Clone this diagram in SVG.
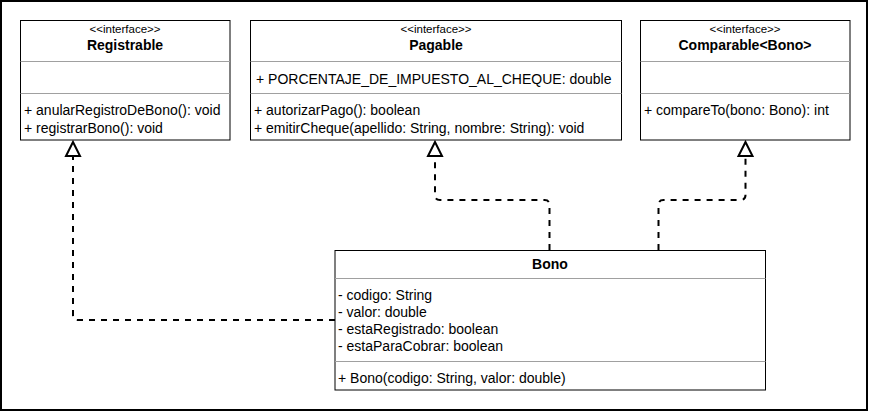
<svg xmlns="http://www.w3.org/2000/svg" width="871" height="411" viewBox="0 0 871 411">
<defs>
<style>
.box{fill:#fff;stroke:#000;stroke-width:1}
.sep{stroke:#a0a0a0;stroke-width:1}
.st{font-family:"Liberation Sans",Arial,sans-serif;font-size:11.5px;fill:#000;text-anchor:middle}
.ti{font-family:"Liberation Sans",Arial,sans-serif;font-size:14px;font-weight:bold;fill:#000;text-anchor:middle}
.m{font-family:"Liberation Sans",Arial,sans-serif;font-size:14px;fill:#000}
.edge{fill:none;stroke:#000;stroke-width:2;stroke-dasharray:6 6}
.head{fill:#fff;stroke:#000;stroke-width:2}
</style>
</defs>
<rect x="0" y="0" width="871" height="411" fill="#fff"/>
<rect x="1" y="1" width="866" height="409" fill="none" stroke="#000" stroke-width="2"/>

<g id="connectors">
<path class="edge" d="M335 320 H78 Q73 320 73 315 V156"/>
<polygon class="head" points="73,142 66,156 80,156"/>
<path class="edge" d="M549.5 250 V205 Q549.5 200 544.5 200 H440 Q435 200 435 195 V156"/>
<polygon class="head" points="435,142 428,156 442,156"/>
<path class="edge" d="M658.5 250 V205 Q658.5 200 663.5 200 H740.5 Q745.5 200 745.5 195 V156"/>
<polygon class="head" points="745.5,142 738.5,156 752.5,156"/>
</g>

<g id="Registrable">
<rect class="box" x="20.5" y="20.5" width="209.5" height="119.5"/>
<line class="sep" x1="20.5" y1="61.5" x2="230" y2="61.5"/>
<line class="sep" x1="20.5" y1="93.5" x2="230" y2="93.5"/>
<text class="st" x="125" y="33">&lt;&lt;interface&gt;&gt;</text>
<text class="ti" x="125" y="50">Registrable</text>
<text class="m" x="24" y="115">+ anularRegistroDeBono(): void</text>
<text class="m" x="24" y="132.5">+ registrarBono(): void</text>
</g>

<g id="Pagable">
<rect class="box" x="250.5" y="20.5" width="371" height="119.5"/>
<line class="sep" x1="250.5" y1="61.5" x2="621.5" y2="61.5"/>
<line class="sep" x1="250.5" y1="93.5" x2="621.5" y2="93.5"/>
<text class="st" x="436" y="33">&lt;&lt;interface&gt;&gt;</text>
<text class="ti" x="436" y="50">Pagable</text>
<text class="m" x="256" y="84">+ PORCENTAJE_DE_IMPUESTO_AL_CHEQUE: double</text>
<text class="m" x="254" y="115">+ autorizarPago(): boolean</text>
<text class="m" x="254" y="132.5">+ emitirCheque(apellido: String, nombre: String): void</text>
</g>

<g id="Comparable">
<rect class="box" x="640.5" y="20.5" width="209.5" height="119.5"/>
<line class="sep" x1="640.5" y1="61.5" x2="850" y2="61.5"/>
<line class="sep" x1="640.5" y1="93.5" x2="850" y2="93.5"/>
<text class="st" x="745" y="33">&lt;&lt;interface&gt;&gt;</text>
<text class="ti" x="745" y="50">Comparable&lt;Bono&gt;</text>
<text class="m" x="644" y="115">+ compareTo(bono: Bono): int</text>
</g>

<g id="Bono">
<rect class="box" x="335" y="250.5" width="430.5" height="139.5"/>
<line class="sep" x1="335" y1="278.5" x2="765.5" y2="278.5"/>
<line class="sep" x1="335" y1="361.5" x2="765.5" y2="361.5"/>
<text class="ti" x="550" y="269">Bono</text>
<text class="m" x="338" y="300">- codigo: String</text>
<text class="m" x="338" y="317">- valor: double</text>
<text class="m" x="338" y="334">- estaRegistrado: boolean</text>
<text class="m" x="338" y="350.5">- estaParaCobrar: boolean</text>
<text class="m" x="338" y="383">+ Bono(codigo: String, valor: double)</text>
</g>
</svg>
